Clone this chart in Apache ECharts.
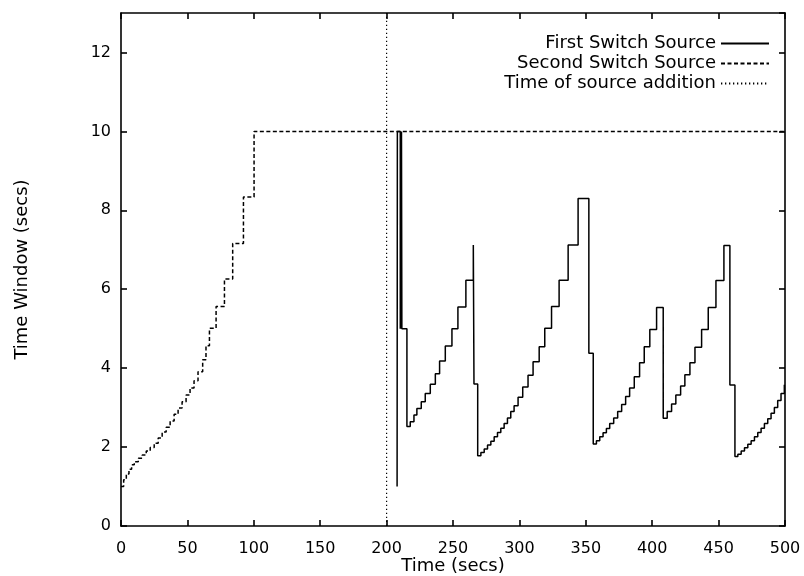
<!DOCTYPE html>
<html>
<head>
<meta charset="utf-8">
<script src="https://cdn.jsdelivr.net/npm/echarts@6/dist/echarts.min.js"></script>
<style>html,body{margin:0;padding:0;background:#fff}#c{width:804px;height:576px}</style>
</head>
<body>
<div id="c"></div>
<script>
// ---- data ----
const seriesNames = ['First Switch Source', 'Second Switch Source', 'Time of source addition'];
const xTicks = [0, 50, 100, 150, 200, 250, 300, 350, 400, 450, 500];
const yTicks = [0, 2, 4, 6, 8, 10, 12];

const firstTimes = [207.9, 208.1, 210.3, 210.6, 210.9, 211.2, 211.5, 215.3, 217.8, 220.6, 222.8, 226.1, 229.1, 232.9, 236.7, 239.9, 244.2, 249.2, 253.7, 259.7, 265.3, 265.8, 268.6, 271, 273.5, 276, 278.5, 281, 283.5, 286, 288.5, 291, 293.5, 296, 299, 302.5, 306.5, 310.3, 314.9, 319.1, 324.2, 329.9, 336.7, 344.2, 352.3, 355.6, 358, 360.5, 363, 365.5, 368, 371, 374, 377, 380, 383, 386.5, 390.5, 394, 398.2, 403.3, 408.3, 411.3, 414.6, 417.8, 421.4, 424.6, 428.4, 432.2, 437.2, 442.2, 448, 454, 458.5, 462.3, 464.5, 467, 469.5, 472, 474.5, 477, 479.5, 482, 484.5, 487, 489.5, 492, 494.5, 497, 499.5, 500];
const firstValues = [1.0, 10, 5, 10, 5, 10, 5.0, 2.52, 2.64, 2.81, 2.98, 3.15, 3.36, 3.59, 3.86, 4.18, 4.56, 5.0, 5.55, 6.23, 7.12, 3.6, 1.78, 1.86, 1.95, 2.05, 2.15, 2.26, 2.37, 2.48, 2.6, 2.74, 2.9, 3.05, 3.26, 3.52, 3.82, 4.16, 4.54, 5.01, 5.56, 6.23, 7.12, 8.30, 4.38, 2.08, 2.16, 2.26, 2.36, 2.47, 2.6, 2.74, 2.9, 3.08, 3.28, 3.5, 3.78, 4.14, 4.54, 4.98, 5.54, 2.73, 2.9, 3.09, 3.32, 3.55, 3.83, 4.14, 4.53, 4.98, 5.54, 6.22, 7.11, 3.57, 1.76, 1.82, 1.9, 1.98, 2.07, 2.16, 2.26, 2.37, 2.48, 2.6, 2.72, 2.86, 3.0, 3.18, 3.36, 3.58, 3.58];

const secondTimes = [0, 2, 4, 6, 8, 10, 13, 16, 19, 22, 25, 28, 31, 34, 37, 40, 43, 46, 49, 52, 55, 58, 61.5, 64, 66.6, 71.6, 77.9, 84.1, 92.2, 100.2, 500];
const secondValues = [1.0, 1.17, 1.32, 1.44, 1.55, 1.63, 1.72, 1.8, 1.9, 1.99, 2.1, 2.23, 2.38, 2.5, 2.66, 2.83, 2.99, 3.15, 3.32, 3.5, 3.68, 3.91, 4.21, 4.57, 5.01, 5.56, 6.26, 7.16, 8.34, 10.0, 10.0];

const additionTime = 200;
const additionSpan = [0, 13];

// ---- build ----
const zip = (a, b) => a.map((t, i) => [t, b[i]]);
const FONT = 'DejaVu Sans';
const chart = echarts.init(document.getElementById('c'), null, {renderer: 'canvas'});

const baseAxis = {
  axisLine: {show: true, onZero: false, lineStyle: {color: '#000', width: 1.6}},
  axisTick: {show: true, inside: true, length: 6, lineStyle: {color: '#000', width: 1.6}},
  splitLine: {show: false}
};

chart.setOption({
  animation: false,
  backgroundColor: '#fff',
  grid: {left: 121, right: 19, top: 13, bottom: 50, containLabel: false, outerBoundsMode: 'none'},
  legend: {
    data: seriesNames,
    orient: 'vertical',
    align: 'right',
    right: 29,
    top: 29,
    itemWidth: 48,
    itemHeight: 12,
    itemGap: 1,
    itemStyle: {opacity: 0},
    textStyle: {fontFamily: FONT, fontSize: 18, color: '#000', lineHeight: 19},
    inactiveColor: '#000'
  },
  xAxis: [
    Object.assign({}, baseAxis, {
      type: 'value', min: 0, max: 500, interval: 50, position: 'bottom',
      name: 'Time (secs)', nameLocation: 'middle', nameGap: 31, nameMoveOverlap: false,
      nameTextStyle: {fontFamily: FONT, fontSize: 18, color: '#000'},
      axisLabel: {fontFamily: FONT, fontSize: 16, color: '#000', margin: 15}
    }),
    Object.assign({}, baseAxis, {
      type: 'value', min: 0, max: 500, interval: 50, position: 'top',
      axisLabel: {show: false}
    })
  ],
  yAxis: [
    Object.assign({}, baseAxis, {
      type: 'value', min: 0, max: 13, interval: 2, position: 'left',
      name: 'Time Window (secs)', nameLocation: 'middle', nameGap: 90, nameRotate: 90, nameMoveOverlap: false,
      nameTextStyle: {fontFamily: FONT, fontSize: 18, color: '#000'},
      axisLabel: {fontFamily: FONT, fontSize: 16, color: '#000', margin: 10, showMaxLabel: false}
    }),
    Object.assign({}, baseAxis, {
      type: 'value', min: 0, max: 13, interval: 2, position: 'right',
      axisLabel: {show: false}
    })
  ],
  series: [
    {
      name: seriesNames[0], type: 'line', step: 'end', symbol: 'none',
      data: zip(firstTimes, firstValues),
      lineStyle: {color: '#000', width: 1.5, type: 'solid'},
      itemStyle: {color: '#000'}
    },
    {
      name: seriesNames[1], type: 'line', step: 'end', symbol: 'none',
      data: zip(secondTimes, secondValues),
      lineStyle: {color: '#000', width: 1.5, type: [4, 2.5]},
      itemStyle: {color: '#000'}
    },
    {
      name: seriesNames[2], type: 'line', symbol: 'none',
      data: additionSpan.map(v => [additionTime, v]),
      lineStyle: {color: '#000', width: 1.2, type: [1.3, 2.7]},
      itemStyle: {color: '#000'}
    }
  ]
});
</script>
</body>
</html>
